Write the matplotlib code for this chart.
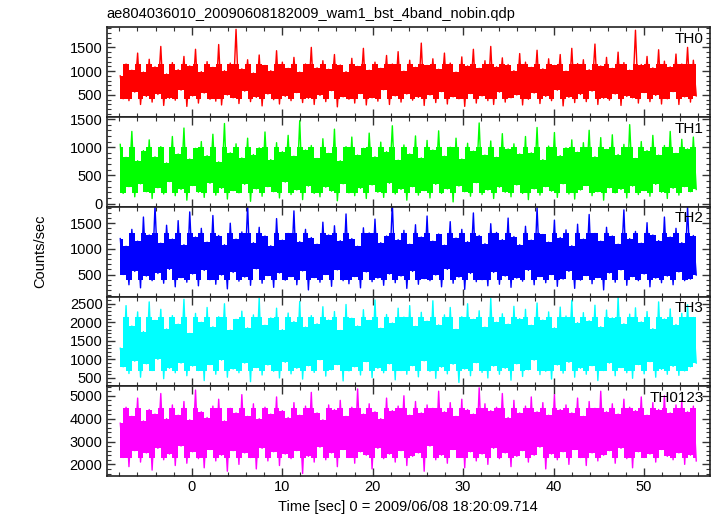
import numpy as np
import matplotlib
matplotlib.use("Agg")
import matplotlib.pyplot as plt
from matplotlib.ticker import MultipleLocator

plt.rcParams['font.family'] = ['Liberation Sans', 'DejaVu Sans']
plt.rcParams['font.size'] = 10.5

# light curve bins (sec from 2009/06/08 18:20:09.714)
T0 = -7.9
DT = 0.32

th0 = [900, 420, 1150, 380, 1020, 560, 1380, 300, 980, 470,
       1250, 350, 1090, 510, 1520, 280, 940, 430, 1180, 390,
       1030, 600, 1310, 260, 1110, 480, 1460, 330, 990, 540,
       1200, 410, 1080, 370, 1560, 290, 1010, 500, 1170, 440,
       1880, 320, 1050, 580, 1240, 360, 960, 450, 1340, 270,
       1120, 520, 1010, 400, 1430, 310, 1190, 470, 1060, 380,
       1290, 550, 980, 340, 1150, 430, 1500, 300, 1070, 490,
       1220, 360, 1040, 590, 1350, 250, 1130, 460, 990, 410,
       1270, 330, 1100, 530, 1480, 290, 1020, 440, 1190, 370,
       1060, 610, 1330, 300, 1150, 480, 1410, 350, 1000, 520,
       1230, 390, 1080, 450, 1590, 280, 1120, 500, 1260, 340,
       1040, 570, 1380, 310, 1170, 460, 980, 420, 1300, 260,
       1110, 530, 1460, 330, 1060, 480, 1220, 380, 1520, 300,
       1090, 560, 1280, 350, 1140, 440, 1010, 500, 1370, 290,
       1190, 410, 1080, 540, 1440, 320, 1050, 470, 1260, 380,
       1120, 600, 1350, 270, 1000, 450, 1480, 340, 1160, 510,
       1240, 360, 1030, 580, 1570, 300, 1110, 430, 1290, 390,
       1060, 520, 1400, 280, 1180, 470, 1020, 440, 1860, 330,
       1140, 550, 1310, 360, 1070, 490, 1450, 310, 1210, 420,
       1090, 570, 1360, 300, 1150, 460, 1500, 350, 1230, 480]

th1 = [1050, 180, 820, 300, 1280, 120, 760, 350, 940, 210,
       1130, 90, 830, 280, 1010, 170, 720, 390, 1190, 140,
       880, 250, 1340, 60, 790, 320, 980, 200, 1100, 110,
       850, 360, 1230, 150, 740, 270, 1420, 80, 900, 230,
       1060, 190, 810, 340, 1160, 40, 870, 260, 990, 130,
       1270, 300, 780, 210, 1080, 100, 920, 380, 1210, 160,
       840, 240, 1470, 70, 950, 310, 1030, 180, 800, 120,
       1150, 290, 890, 220, 1320, 50, 760, 350, 1010, 190,
       1180, 140, 860, 270, 980, 90, 1250, 330, 830, 200,
       1090, 110, 920, 360, 1380, 170, 770, 250, 1040, 60,
       880, 300, 1200, 150, 810, 230, 1120, 100, 950, 340,
       1290, 180, 840, 260, 1000, 30, 1160, 310, 790, 210,
       1070, 130, 930, 370, 1430, 160, 860, 240, 1110, 90,
       820, 290, 1240, 200, 970, 120, 1060, 330, 880, 180,
       1190, 70, 900, 260, 1350, 150, 780, 300, 1020, 220,
       1260, 110, 850, 350, 990, 170, 1130, 80, 910, 240,
       1080, 320, 1300, 140, 830, 210, 1170, 60, 960, 280,
       1220, 190, 870, 250, 1050, 100, 1400, 310, 800, 160,
       1100, 230, 940, 130, 1210, 340, 860, 200, 1030, 90,
       1280, 270, 890, 150, 1140, 300, 970, 210, 1180, 250]

th2 = [1200, 500, 1050, 300, 1380, 560, 1150, 240, 1620, 470,
       1270, 380, 1840, 520, 1110, 330, 1460, 600, 1190, 260,
       1550, 440, 1080, 350, 1720, 510, 1230, 280, 1400, 580,
       1130, 400, 1650, 310, 1260, 490, 1080, 220, 1500, 540,
       1190, 370, 1330, 450, 1860, 290, 1120, 610, 1420, 330,
       1250, 480, 1060, 250, 1590, 530, 1170, 390, 1300, 460,
       1740, 300, 1140, 570, 1380, 200, 1220, 440, 1090, 350,
       1520, 500, 1270, 270, 1450, 590, 1160, 380, 1680, 320,
       1200, 460, 1050, 240, 1410, 550, 1310, 360, 1580, 430,
       1120, 290, 1250, 510, 1890, 340, 1180, 470, 1360, 230,
       1090, 560, 1470, 310, 1230, 420, 1640, 380, 1150, 490,
       1290, 260, 1070, 600, 1530, 330, 1210, 450, 1380, 210,
       1140, 520, 1700, 360, 1260, 400, 1100, 280, 1490, 540,
       1320, 310, 1180, 470, 1600, 250, 1240, 430, 1080, 370,
       1440, 580, 1170, 300, 1810, 460, 1280, 340, 1130, 500,
       1560, 270, 1220, 410, 1370, 560, 1060, 230, 1480, 390,
       1190, 480, 1670, 320, 1300, 440, 1150, 200, 1420, 530,
       1250, 350, 1090, 590, 1760, 290, 1200, 460, 1340, 380,
       1110, 510, 1510, 260, 1270, 430, 1160, 340, 1620, 470,
       1230, 300, 1400, 550, 1120, 380, 1830, 410, 1260, 490]

th3 = [1300, 800, 2450, 620, 1900, 950, 2280, 520, 1750, 880,
       2550, 700, 2050, 1000, 2350, 480, 1820, 760, 2180, 640,
       1950, 900, 2620, 560, 1700, 820, 2240, 700, 2000, 430,
       2400, 860, 1880, 600, 2150, 980, 2500, 520, 1790, 740,
       2080, 640, 2300, 900, 1850, 400, 2200, 780, 2650, 580,
       1920, 850, 2120, 680, 2380, 500, 1800, 920, 2250, 610,
       2020, 760, 2560, 470, 1870, 830, 2180, 650, 1960, 990,
       2420, 550, 2060, 720, 2290, 860, 1780, 420, 2480, 690,
       2110, 800, 1900, 580, 2340, 940, 2050, 510, 2600, 760,
       1840, 640, 2210, 880, 1980, 450, 2380, 700, 2140, 600,
       2450, 830, 1890, 530, 2270, 960, 2030, 680, 2580, 490,
       1930, 790, 2200, 610, 2400, 870, 1810, 380, 2150, 740,
       2500, 560, 2080, 910, 2310, 650, 1870, 500, 2640, 820,
       2000, 600, 2230, 760, 1950, 440, 2430, 880, 2100, 540,
       2350, 720, 1920, 980, 2520, 590, 2060, 680, 2280, 470,
       1850, 850, 2410, 630, 2170, 920, 2590, 520, 1990, 760,
       2260, 600, 2040, 830, 2460, 430, 1880, 700, 2330, 900,
       2120, 560, 2680, 780, 1960, 640, 2220, 490, 2390, 860,
       2010, 610, 2290, 940, 1830, 520, 2550, 730, 2090, 600,
       2360, 810, 1940, 570, 2240, 690, 2470, 800, 2130, 900]

th0123 = [3800, 2300, 4500, 1900, 4100, 2600, 4900, 2100, 3900, 2500,
          4400, 1750, 4200, 2700, 5100, 2200, 4000, 2450, 4600, 1950,
          4150, 2800, 4750, 2050, 3950, 2550, 5250, 2250, 4300, 1850,
          4050, 2650, 4550, 2150, 4850, 2400, 3900, 1700, 4450, 2600,
          4250, 2000, 5050, 2500, 4100, 2300, 4650, 1800, 4000, 2700,
          4500, 2150, 4200, 2550, 4950, 1950, 4350, 2450, 4050, 2250,
          4700, 2600, 4150, 1600, 4550, 2350, 5150, 2100, 4250, 2750,
          3950, 2200, 4600, 2500, 4400, 1900, 4800, 2650, 4100, 2300,
          4500, 2050, 5300, 2550, 4200, 2400, 4650, 1800, 4300, 2700,
          4000, 2250, 4900, 2450, 4350, 2100, 4550, 2600, 5000, 1950,
          4150, 2350, 4750, 2500, 4250, 1700, 4600, 2800, 4450, 2200,
          5200, 2400, 4300, 2050, 4700, 2650, 4100, 2300, 4850, 1850,
          4400, 2550, 4200, 2150, 5350, 2450, 4650, 2000, 4350, 2700,
          4500, 2250, 5100, 2500, 4050, 1900, 4800, 2350, 4250, 2600,
          4550, 2100, 4950, 2400, 4300, 2750, 4700, 1800, 4150, 2450,
          5050, 2200, 4400, 2550, 4600, 2000, 4250, 2650, 4900, 2300,
          4100, 1950, 4750, 2500, 4450, 2150, 5200, 2400, 4300, 2600,
          4650, 2050, 4200, 2700, 4850, 2250, 4500, 1850, 4350, 2550,
          4950, 2300, 4150, 2450, 4700, 2100, 4400, 2650, 5000, 2350,
          4250, 2200, 4600, 2500, 4800, 2000, 4300, 2400, 4550, 2150]

names = ['TH0', 'TH1', 'TH2', 'TH3', 'TH0123']
series = [th0, th1, th2, th3, th0123]
# range where the dense curve looks solid in each band
core_lo = [420, 190, 400, 680, 2300]
core_hi = [1150, 1000, 1300, 2150, 4450]
colors = ['#ff0000', '#00ff00', '#0000ff', '#00ffff', '#ff00ff']
ylims = [(36, 1922), (-57, 1535), (71, 1820), (276, 2695), (1491, 5417)]
ymajor = [500, 500, 500, 500, 1000]
yminor = [100, 100, 100, 100, 200]

fig = plt.figure(figsize=(7.17, 5.16), dpi=100)
left, right = 106.7 / 717, 710 / 717
top_px, bot_px = 27.3, 476.0
h_px = (bot_px - top_px) / 5

for i in range(5):
    y0 = 1 - (top_px + (i + 1) * h_px) / 516
    ax = fig.add_axes([left, y0, right - left, h_px / 516])
    vals = np.array(series[i], dtype=float)
    t = T0 + DT * np.arange(len(vals))

    # solid part: span of each segment, limited to the core range
    lo = np.maximum(np.minimum(vals[:-1], vals[1:]), core_lo[i])
    hi = np.minimum(np.maximum(vals[:-1], vals[1:]), core_hi[i])
    hi = np.maximum(hi, lo)
    xs = np.repeat(t, 2)[1:-1]
    ax.fill_between(xs, np.repeat(lo, 2), np.repeat(hi, 2),
                    color=colors[i], lw=0)
    ax.plot(t, vals, color=colors[i], lw=1.0)

    ax.set_xlim(-9.4, 57.3)
    ax.set_ylim(*ylims[i])
    ax.xaxis.set_major_locator(MultipleLocator(10))
    ax.xaxis.set_minor_locator(MultipleLocator(2))
    ax.yaxis.set_major_locator(MultipleLocator(ymajor[i]))
    ax.yaxis.set_minor_locator(MultipleLocator(yminor[i]))
    ax.tick_params(which='both', direction='in', top=True, right=True,
                   color='#333333', labelsize=10.5, pad=3)
    ax.tick_params(which='major', length=6, width=1)
    ax.tick_params(which='minor', length=3, width=0.8)
    for s in ax.spines.values():
        s.set_linewidth(1.2)
        s.set_color('#222222')
    if i < 4:
        ax.tick_params(labelbottom=False)
    ax.text(0.99, 0.95, names[i], transform=ax.transAxes, ha='right', va='top',
            fontsize=11)

fig.text(left, 0.987, 'ae804036010_20090608182009_wam1_bst_4band_nobin.qdp',
         ha='left', va='top', fontsize=10.5)
fig.text(0.056, 1 - 251 / 516, 'Counts/sec', rotation=90, ha='center',
         va='center', fontsize=10.5)
fig.text((left + right) / 2, 1 - 507 / 516,
         'Time [sec] 0 = 2009/06/08 18:20:09.714', ha='center', va='center',
         fontsize=10.5)

fig.savefig('out.png', dpi=100)
